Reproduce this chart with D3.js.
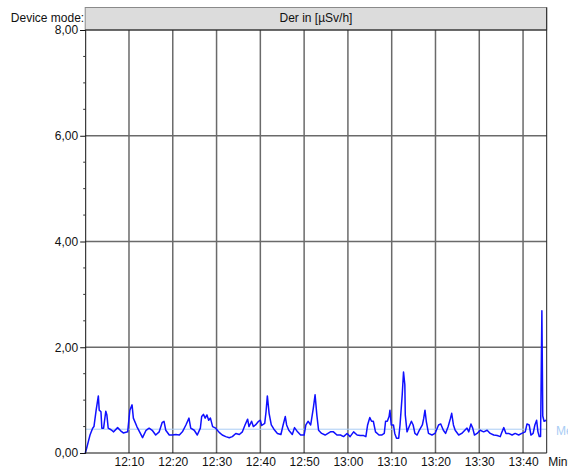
<!DOCTYPE html>
<html>
<head>
<meta charset="utf-8">
<script src="https://cdn.jsdelivr.net/npm/d3@7"></script>
<style>
  html, body { margin: 0; padding: 0; background: #fff; }
  svg { display: block; font-family: "Liberation Sans", Arial, sans-serif; }
</style>
</head>
<body>
<svg id="chart" width="568" height="471"></svg>
<script>
// ---- data (minutes after 12:00, dose rate in µSv/h) ----
const minutes = [
  0.0, 0.3, 0.7, 1.1, 1.7, 2.0, 2.5, 3.0, 3.2, 3.6, 3.8, 4.2, 4.7, 4.95, 5.25, 5.9, 6.5, 7.4, 8.1, 8.7,
  9.7, 10.2, 10.7, 11.0, 11.8, 12.6, 13.1, 13.9, 14.6, 15.3, 16.1, 16.9, 17.6, 18.0, 18.4, 19.2, 19.9, 20.7, 21.5, 22.2,
  23.0, 23.7, 24.1, 24.9, 25.6, 26.3, 26.6, 27.0, 27.4, 27.8, 28.2, 28.6, 29.1, 29.8, 30.6, 31.3, 32.1, 32.9, 33.6, 34.4,
  35.2, 35.9, 36.5, 37.1, 37.4, 38.0, 38.4, 38.9, 39.6, 40.0, 40.3, 41.0, 41.3, 41.6, 42.0, 42.5, 43.1, 43.9, 44.7, 45.2,
  45.7, 46.0, 46.5, 47.3, 47.8, 48.5, 49.2, 50.0, 50.4, 50.9, 51.5, 52.1, 52.5, 52.9, 53.3, 54.0, 54.8, 56.0, 56.7, 57.5,
  58.3, 59.0, 59.8, 60.5, 61.3, 62.1, 62.8, 63.6, 64.1, 64.5, 65.0, 65.4, 65.8, 66.3, 67.1, 67.7, 68.3, 68.6, 69.0, 69.4,
  69.6, 69.9, 70.4, 70.7, 71.1, 71.6, 71.9, 72.4, 72.7, 73.0, 73.1, 73.5, 74.0, 74.5, 74.9, 75.3, 75.8, 76.3, 77.0, 77.3,
  77.6, 77.9, 78.4, 79.2, 79.9, 80.7, 81.2, 81.8, 82.3, 82.9, 83.4, 83.7, 84.1, 84.5, 85.3, 86.0, 86.7, 87.2, 87.6, 88.1,
  88.5, 88.9, 89.5, 90.2, 91.0, 91.8, 92.5, 93.3, 94.1, 94.8, 95.2, 95.6, 96.1, 96.7, 97.5, 98.2, 99.0, 99.7, 100.5, 100.9,
  101.4, 101.8, 102.3, 102.7, 103.1, 103.4, 103.7, 104.0, 104.3, 104.5, 104.8, 105.3
];
const doseRate = [
  0.00, 0.08, 0.21, 0.34, 0.47, 0.50, 0.81, 1.08, 0.81, 0.78, 0.47, 0.47, 0.79, 0.72, 0.47, 0.44, 0.40, 0.48, 0.42, 0.38,
  0.40, 0.81, 0.91, 0.66, 0.50, 0.37, 0.29, 0.43, 0.47, 0.43, 0.34, 0.40, 0.58, 0.60, 0.43, 0.34, 0.34, 0.35, 0.34, 0.40,
  0.53, 0.66, 0.47, 0.43, 0.34, 0.47, 0.69, 0.73, 0.66, 0.72, 0.62, 0.66, 0.50, 0.47, 0.39, 0.34, 0.31, 0.29, 0.31, 0.37,
  0.35, 0.40, 0.53, 0.64, 0.50, 0.60, 0.50, 0.53, 0.60, 0.62, 0.52, 0.56, 0.78, 1.08, 0.75, 0.53, 0.45, 0.37, 0.35, 0.53,
  0.69, 0.53, 0.43, 0.35, 0.48, 0.40, 0.34, 0.34, 0.53, 0.60, 0.53, 0.85, 1.10, 0.72, 0.43, 0.37, 0.34, 0.40, 0.40, 0.34,
  0.34, 0.31, 0.37, 0.31, 0.40, 0.34, 0.33, 0.33, 0.31, 0.53, 0.67, 0.60, 0.60, 0.40, 0.34, 0.34, 0.37, 0.60, 0.60, 0.69,
  0.81, 0.53, 0.53, 0.37, 0.28, 0.28, 0.53, 1.10, 1.53, 1.29, 0.72, 0.40, 0.50, 0.60, 0.53, 0.37, 0.34, 0.43, 0.53, 0.65,
  0.81, 0.60, 0.37, 0.34, 0.37, 0.53, 0.55, 0.43, 0.37, 0.50, 0.65, 0.75, 0.53, 0.43, 0.34, 0.37, 0.43, 0.47, 0.40, 0.55,
  0.47, 0.34, 0.37, 0.43, 0.40, 0.43, 0.37, 0.34, 0.33, 0.31, 0.40, 0.48, 0.37, 0.37, 0.34, 0.37, 0.34, 0.37, 0.40, 0.55,
  0.53, 0.34, 0.37, 0.53, 0.62, 0.40, 0.31, 0.31, 2.69, 0.70, 0.60, 0.62
];
const meanValue = 0.45;
const yTickValues = [0, 2, 4, 6, 8];
const xTickLabels = ["12:10","12:20","12:30","12:40","12:50","13:00","13:10","13:20","13:30","13:40"];
const headerTitle = "Der in [µSv/h]";
const headerLeft = "Device mode:";
const xUnit = "Minutes";
const meanLabel = "Mean";

// ---- layout ----
const L = 85.2, R = 546.7, T = 30, B = 453;
const svg = d3.select("#chart");

const base = new Date(2000, 0, 1, 12, 0, 0);
const toDate = m => new Date(base.getTime() + m * 60000);
const x = d3.scaleTime().domain([base, toDate(105.4)]).range([L, R]);
const y = d3.scaleLinear().domain([0, 8]).range([B, T]);

const parseHM = d3.timeParse("%H:%M");
const xTickDates = xTickLabels.map(s => { const p = parseHM(s); return new Date(2000, 0, 1, p.getHours(), p.getMinutes()); });

// header box
svg.append("rect").attr("x", L).attr("y", 7.5).attr("width", R - L).attr("height", T - 7.5)
  .attr("fill", "#dcdcdc").attr("stroke", "#8a8a8a").attr("stroke-width", 1);
svg.append("text").attr("x", (L + R) / 2).attr("y", 22).attr("text-anchor", "middle")
  .attr("font-size", 12).attr("fill", "#111").text(headerTitle);
svg.append("text").attr("x", L - 1).attr("y", 21.5).attr("text-anchor", "end")
  .attr("font-size", 12).attr("fill", "#111").text(headerLeft);

// gridlines
const grid = svg.append("g");
grid.selectAll("line.v").data(xTickDates).join("line")
  .attr("x1", d => x(d)).attr("x2", d => x(d)).attr("y1", T).attr("y2", B)
  .attr("stroke", "#6a6a6a").attr("stroke-width", 1.5);
grid.selectAll("line.h").data(yTickValues.filter(v => v > 0 && v < 8)).join("line")
  .attr("x1", L).attr("x2", R).attr("y1", d => y(d)).attr("y2", d => y(d))
  .attr("stroke", "#6a6a6a").attr("stroke-width", 1.5);

// mean line
svg.append("line").attr("x1", L).attr("x2", R).attr("y1", y(meanValue)).attr("y2", y(meanValue))
  .attr("stroke", "#a9cdf5").attr("stroke-width", 1);
svg.append("text").attr("x", 556).attr("y", y(meanValue) + 6).attr("font-size", 12)
  .attr("fill", "#a9cdf5").text(meanLabel);

// data line
const pts = minutes.map((m, i) => [toDate(m), doseRate[i]]);
svg.append("path").datum(pts)
  .attr("fill", "none").attr("stroke", "#1010ff").attr("stroke-width", 1.5)
  .attr("stroke-linejoin", "round")
  .attr("d", d3.line().x(d => x(d[0])).y(d => y(d[1])));

// frame
svg.append("line").attr("x1", L).attr("x2", R).attr("y1", T).attr("y2", T).attr("stroke", "#111");
svg.append("line").attr("x1", L).attr("x2", R).attr("y1", B).attr("y2", B).attr("stroke", "#111");
svg.append("line").attr("x1", R).attr("x2", R).attr("y1", 7.5).attr("y2", B).attr("stroke", "#222");

// y axis
const fmt = v => d3.format(".2f")(v).replace(".", ",");
const yAxis = svg.append("g").attr("transform", `translate(${L},0)`)
  .call(d3.axisLeft(y).tickValues(yTickValues).tickFormat(fmt).tickSize(5).tickPadding(2));
yAxis.select(".domain").attr("stroke", "#111");
yAxis.selectAll(".tick line").attr("stroke", "#111");
yAxis.selectAll("text").attr("font-size", 12).attr("fill", "#111").attr("font-family", "Liberation Sans, Arial, sans-serif");
const minorTicks = d3.range(0.5, 8, 0.5).filter(v => v % 2 !== 0);
svg.append("g").selectAll("line").data(minorTicks).join("line")
  .attr("x1", L - 2).attr("x2", L).attr("y1", d => y(d)).attr("y2", d => y(d))
  .attr("stroke", "#333");

// x axis
const xAxis = svg.append("g").attr("transform", `translate(0,${B})`)
  .call(d3.axisBottom(x).tickValues(xTickDates).tickFormat(d3.timeFormat("%H:%M")).tickSize(0).tickPadding(4));
xAxis.select(".domain").remove();
xAxis.selectAll("text").attr("font-size", 12).attr("fill", "#111").attr("font-family", "Liberation Sans, Arial, sans-serif");
svg.append("text").attr("x", R + 1.5).attr("y", 466).attr("font-size", 12).attr("fill", "#111").text(xUnit);
</script>
</body>
</html>
